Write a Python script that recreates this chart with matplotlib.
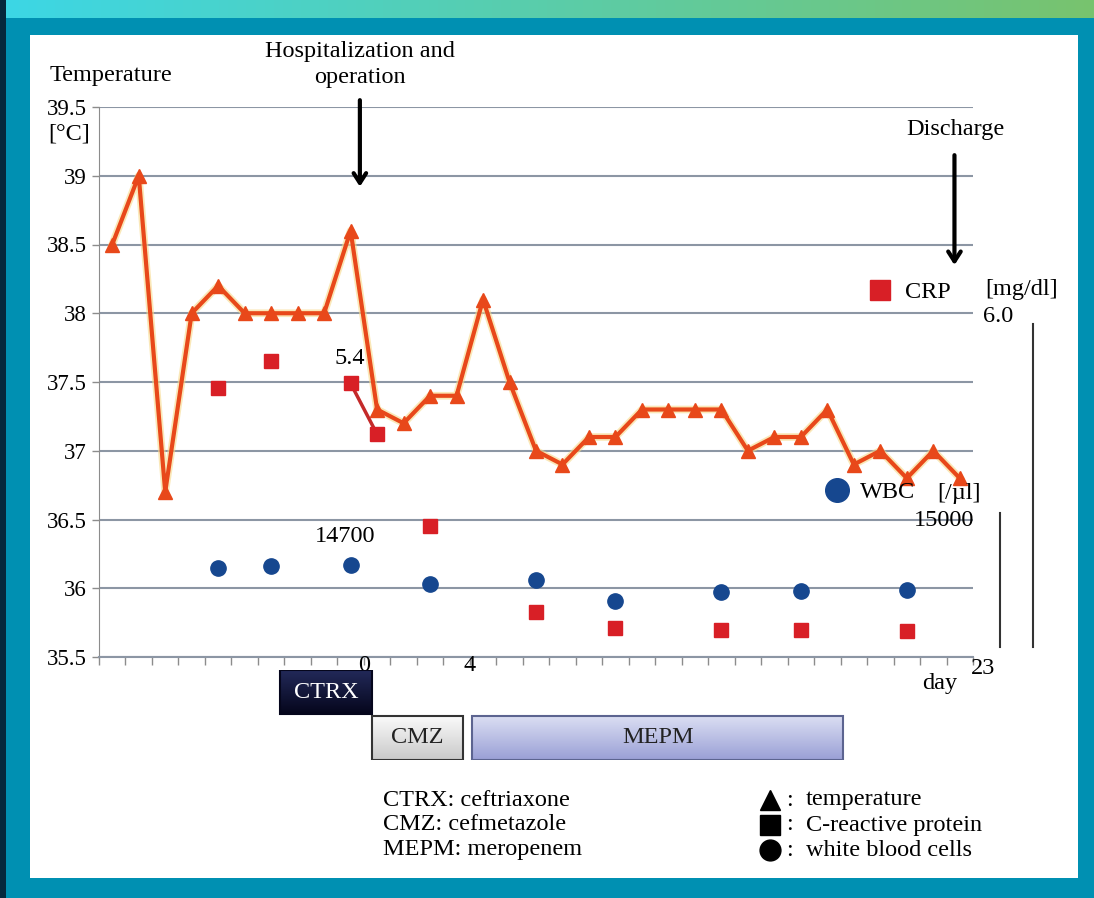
import numpy as np
import matplotlib
matplotlib.use('Agg')
import matplotlib.pyplot as plt
from matplotlib.patches import Rectangle
from matplotlib.lines import Line2D

plt.rcParams['font.family'] = ['Liberation Serif', 'DejaVu Serif']

W, H = 1094, 898
FS = 17.5

# ---------------- data ----------------
temperature = [38.5, 39.0, 36.7, 38.0, 38.2, 38.0, 38.0, 38.0, 38.0, 38.6,
               37.3, 37.2, 37.4, 37.4, 38.1, 37.5, 37.0, 36.9, 37.1, 37.1,
               37.3, 37.3, 37.3, 37.3, 37.0, 37.1, 37.1, 37.3, 36.9, 37.0,
               36.8, 37.0, 36.8]
temp_slots = list(range(len(temperature)))

crp_slots = [4, 6, 9, 10, 12, 16, 19, 23, 26, 30]
crp_plot = [37.46, 37.65, 37.49, 37.12, 36.45, 35.83, 35.71, 35.70, 35.70, 35.69]

wbc_slots = [4, 6, 9, 12, 16, 19, 23, 26, 30]
wbc_plot = [36.15, 36.16, 36.17, 36.03, 36.06, 35.91, 35.97, 35.98, 35.99]

y_ticks = [35.5, 36.0, 36.5, 37.0, 37.5, 38.0, 38.5, 39.0, 39.5]
y_tick_labels = ['35.5', '36', '36.5', '37', '37.5', '38', '38.5', '39', '39.5']

day_label_text = ['0', '4']
day_label_pos = [10, 14]

therapy_names = ['CTRX', 'CMZ', 'MEPM']
therapy_start = [6.85, 10.3, 14.1]
therapy_end = [10.3, 13.75, 28.1]

# ---------------- figure ----------------
fig = plt.figure(figsize=(W / 100, H / 100), dpi=100)


def fx(px):
    return px / W


def fy(py):
    return 1 - py / H


# background
bg = fig.add_axes([0, 0, 1, 1], zorder=-10)
bg.set_axis_off()
img = np.zeros((H, W, 3))
img[:, :] = np.array([0, 144, 178]) / 255.0
band = np.linspace(0, 1, W)
top_l = np.array([60, 215, 230]) / 255.0
top_r = np.array([120, 195, 110]) / 255.0
img[:18, :] = (top_l[None, :] * (1 - band[:, None]) + top_r[None, :] * band[:, None])[None, :, :]
img[:, :6] = np.array([5, 40, 60]) / 255.0
bg.imshow(img, extent=[0, 1, 0, 1], aspect='auto')
bg.add_patch(Rectangle((fx(30), fy(878)), fx(1078) - fx(30), fy(35) - fy(878),
                       facecolor='white', edgecolor='none', transform=bg.transAxes))
bg.set_xlim(0, 1)
bg.set_ylim(0, 1)

# main axes
ax = fig.add_axes([fx(99), fy(657), fx(973) - fx(99), fy(107) - fy(657)])
ax.set_facecolor('none')
ax.set_xlim(0, 33)
ax.set_ylim(35.5, 39.5)
ax.set_yticks(y_ticks)
ax.set_yticklabels(y_tick_labels, fontsize=16.5)
ax.set_xticks(np.arange(0, 34))
ax.set_xticklabels([])
ax.tick_params(axis='x', direction='out', length=6, width=1, color='#8c8c8c')
ax.tick_params(axis='y', direction='out', length=5, width=1, color='#8c8c8c', pad=4)
for s in ['top', 'right']:
    ax.spines[s].set_visible(False)
ax.spines['left'].set_color('#8c8c8c')
ax.spines['bottom'].set_color('#8c96a4')
ax.spines['bottom'].set_linewidth(1.5)
ax.grid(axis='y', color='#8c96a4', lw=1.5)
ax.set_axisbelow(True)

tx = [s + 0.5 for s in temp_slots]
ax.plot(tx, temperature, color='#f7d98a', lw=5.5, alpha=0.6, zorder=3, solid_joinstyle='round')
ax.plot(tx, temperature, color='#e8481a', lw=3, marker='^', markersize=10,
        markerfacecolor='#e8481a', markeredgecolor='#e8481a', zorder=4)

cx = [s + 0.5 for s in crp_slots]
ax.plot(cx[2:4], crp_plot[2:4], color='#c42a2a', lw=2.5, zorder=5)
ax.plot(cx, crp_plot, ls='none', marker='s', markersize=10, color='#d81f26', zorder=6)

wx = [s + 0.5 for s in wbc_slots]
ax.plot(wx, wbc_plot, ls='none', marker='o', markersize=11, color='#16478f', zorder=6)

ax.text(9.45, 37.67, '5.4', fontsize=FS, ha='center', va='center')
ax.text(9.3, 36.38, '14700', fontsize=FS, ha='center', va='center')

# arrows
for x0, y0, y1 in [(9.85, 39.57, 38.9), (32.3, 39.17, 38.33)]:
    ax.annotate('', xy=(x0, y1), xytext=(x0, y0),
                arrowprops=dict(arrowstyle='->,head_width=0.45,head_length=0.7', lw=3, color='black'),
                annotation_clip=False)

for t, p in zip(day_label_text, day_label_pos):
    ax.text(p, 35.44, t, fontsize=FS, ha='center', va='center', clip_on=False)


# texts in figure pixel coordinates
def ftext(px, py, s, ha='center', size=FS, **kw):
    fig.text(fx(px), fy(py), s, ha=ha, va='center', fontsize=size, **kw)


ftext(111, 75, 'Temperature')
ftext(360, 51, 'Hospitalization and')
ftext(360, 77, 'operation')
ftext(69, 134, '[°C]')
ftext(955, 130, 'Discharge')
ftext(905, 292, 'CRP', ha='left')
ftext(985, 290, '[mg/dl]', ha='left')
ftext(983, 316, '6.0', ha='left')
ftext(860, 493, 'WBC', ha='left')
ftext(937, 493, '[/µl]', ha='left')
ftext(974, 520, '15000', ha='right')
ftext(983, 668, '23')
ftext(940, 683, 'day')

fig.add_artist(Line2D([fx(880)], [fy(290)], lw=0, marker='s', markersize=15,
                      color='#d81f26', transform=fig.transFigure))
fig.add_artist(Line2D([fx(837)], [fy(490)], lw=0, marker='o', markersize=17,
                      color='#16478f', transform=fig.transFigure))
fig.add_artist(Line2D([fx(1000), fx(1000)], [fy(513), fy(647)], lw=1.5, color='#333333',
                      transform=fig.transFigure))
fig.add_artist(Line2D([fx(1033), fx(1033)], [fy(324), fy(647)], lw=1.5, color='#333333',
                      transform=fig.transFigure))

# therapy bars
axb = fig.add_axes([fx(99), fy(760), fx(973) - fx(99), fy(670) - fy(760)])
axb.set_axis_off()
styles = {
    'CTRX': dict(y0=0.51, y1=1.0, c_top='#232a5a', c_bot='#05061c', ec='#05061c', tc='white'),
    'CMZ': dict(y0=0.0, y1=0.49, c_top='#fbfbfb', c_bot='#c9c9c9', ec='#333333', tc='#222222'),
    'MEPM': dict(y0=0.0, y1=0.49, c_top='#dcdff3', c_bot='#9aa0d6', ec='#5c6490', tc='#222222'),
}
for name, x0, x1 in zip(therapy_names, therapy_start, therapy_end):
    st = styles[name]
    ct = np.array(matplotlib.colors.to_rgb(st['c_top']))
    cb = np.array(matplotlib.colors.to_rgb(st['c_bot']))
    g = np.linspace(0, 1, 50)[:, None]
    grad = (ct[None, :] * (1 - g) + cb[None, :] * g)[:, None, :]
    axb.imshow(grad, extent=[x0, x1, st['y0'], st['y1']], aspect='auto', origin='upper', zorder=1)
    axb.add_patch(Rectangle((x0, st['y0']), x1 - x0, st['y1'] - st['y0'], fill=False,
                            edgecolor=st['ec'], lw=1.5, zorder=2))
    axb.text((x0 + x1) / 2, (st['y0'] + st['y1']) / 2, name, ha='center', va='center',
             fontsize=FS, color=st['tc'], zorder=3)
axb.set_xlim(0, 33)
axb.set_ylim(0, 1)

# bottom legend
ftext(383, 800, 'CTRX: ceftriaxone', ha='left')
ftext(383, 825, 'CMZ: cefmetazole', ha='left')
ftext(383, 850, 'MEPM: meropenem', ha='left')
for py, mk, lab in [(800, '^', 'temperature'), (825, 's', 'C-reactive protein'), (850, 'o', 'white blood cells')]:
    fig.add_artist(Line2D([fx(770)], [fy(py)], lw=0, marker=mk, markersize=15, color='black',
                          transform=fig.transFigure))
    ftext(786, py, ':', ha='left')
    ftext(806, py, lab, ha='left')

fig.savefig('out.png', dpi=100)
